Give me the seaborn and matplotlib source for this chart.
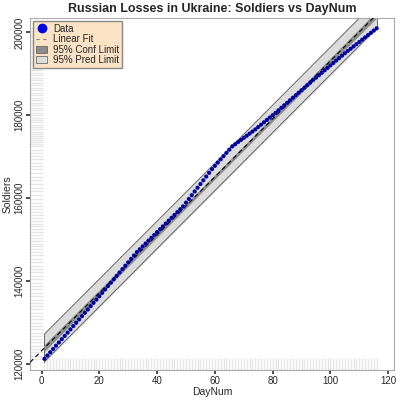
import numpy as np
import pandas as pd
import matplotlib
matplotlib.use("Agg")
import matplotlib.pyplot as plt
import seaborn as sns
from matplotlib.patches import Patch
from matplotlib.lines import Line2D

day = list(range(1, 117))
soldiers = [121200,121990,122780,123570,124360,125150,125940,126730,127520,128310,
 129110,129910,130710,131510,132310,133110,133910,134710,135510,136310,
 137130,137950,138770,139590,140410,141230,142050,142870,143690,144510,145330,146150,146970,
 147660,148350,149040,149730,150420,151110,151800,152490,153180,153870,154560,155250,155940,156630,157320,158010,
 158910,159810,160710,161610,162510,163410,164310,165210,166110,167010,
 167795,168580,169365,170150,170935,171720,172505,
 173017,173529,174041,174553,175065,175577,176089,176601,
 177172,177743,178314,178885,179456,180027,180598,
 181206,181814,182422,183030,183638,184246,184854,185462,186070,186678,187286,187894,188502,
 189092,189682,190272,190862,191452,192042,192632,193222,193812,194402,194992,
 195538,196084,196630,197176,197722,198268,198814,199360,199906,200452,200998]

sns.set_theme(style="white")
plt.rcParams['font.family'] = ['Liberation Sans', 'DejaVu Sans']
df = pd.DataFrame({"DayNum": day, "Soldiers": soldiers})
x = df.DayNum.values.astype(float); y = df.Soldiers.values.astype(float)
n = len(x)
b1, b0 = np.polyfit(x, y, 1)
res = y - (b0 + b1 * x)
s = np.sqrt((res ** 2).sum() / (n - 2))
tval = 1.981
xm = x.mean(); sxx = ((x - xm) ** 2).sum()
xs = np.linspace(x.min(), x.max(), 200)
fit = b0 + b1 * xs
se_c = s * np.sqrt(1 / n + (xs - xm) ** 2 / sxx)
se_p = s * np.sqrt(1 + 1 / n + (xs - xm) ** 2 / sxx)

fig, ax = plt.subplots(figsize=(4, 4), dpi=100)
ax.fill_between(xs, fit - tval * se_p, fit + tval * se_p, color="#DCDCDC", zorder=1)
ax.plot(xs, fit - tval * se_p, color="#555555", lw=0.6, zorder=2)
ax.plot(xs, fit + tval * se_p, color="#555555", lw=0.6, zorder=2)
ax.plot([x.min(), x.min()], [fit[0] - tval * se_p[0], fit[0] + tval * se_p[0]], color="#555555", lw=0.6)
ax.plot([x.max(), x.max()], [fit[-1] - tval * se_p[-1], fit[-1] + tval * se_p[-1]], color="#555555", lw=0.6)
ax.fill_between(xs, fit - tval * se_c, fit + tval * se_c, color="#8C8C8C", zorder=2)
xl = np.array([-4.0, 122.0])
ax.plot(xl, b0 + b1 * xl, color="black", ls=(0, (4, 3)), lw=0.8, zorder=3)
sns.scatterplot(data=df, x="DayNum", y="Soldiers", ax=ax, color="#0000A0", s=9,
                edgecolor="none", zorder=4)
sns.rugplot(data=df, x="DayNum", y="Soldiers", ax=ax, color="#E6E6E6", height=0.035, lw=0.8, zorder=0)

ax.set_xlim(-4, 122)
ax.set_ylim(118500, 203500)
ax.set_xticks([0, 20, 40, 60, 80, 100, 120])
ax.set_yticks([120000, 140000, 160000, 180000, 200000])
ax.set_yticklabels(["120000", "140000", "160000", "180000", "200000"], rotation=90, va="center")
ax.tick_params(axis="both", labelsize=7, length=3, color="#333333", left=True, bottom=True, pad=1)
ax.set_xlabel("DayNum", fontsize=7.5, labelpad=1)
ax.set_ylabel("Soldiers", fontsize=7.5, labelpad=1)
ax.set_title("Russian Losses in Ukraine: Soldiers vs DayNum", fontsize=9, fontweight="bold", pad=4)
for sp in ax.spines.values():
    sp.set_color("#AAAAAA"); sp.set_linewidth(0.8)

handles = [Line2D([], [], marker="o", ls="none", color="#0000E0", markersize=6),
           Line2D([], [], ls=(0, (3, 3)), color="#888888", lw=0.8),
           Patch(facecolor="#8C8C8C", edgecolor="#555555", lw=0.5),
           Patch(facecolor="#DCDCDC", edgecolor="#555555", lw=0.5)]
leg = ax.legend(handles, ["Data", "Linear Fit", "95% Conf Limit", "95% Pred Limit"],
                loc="upper left", fontsize=7, frameon=True, handlelength=1.2,
                handletextpad=0.6, labelspacing=0.05, borderpad=0.3, fancybox=False,
                borderaxespad=0.3)
leg.get_frame().set_facecolor("#FCE3C6"); leg.get_frame().set_edgecolor("#888888")
leg.get_frame().set_alpha(1)
fig.subplots_adjust(left=0.075, right=0.985, top=0.955, bottom=0.075)
fig.savefig("out.png", dpi=100)
